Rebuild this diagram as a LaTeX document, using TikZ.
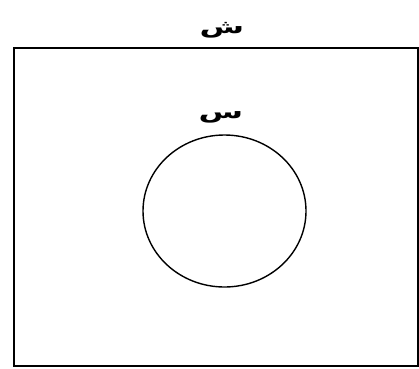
\documentclass[tikz,border=0pt]{standalone}
\usepackage{fontspec}
\usetikzlibrary{shapes.geometric}
\TeXXeTstate=1
\newfontfamily\arabicfont[Script=Arabic]{DejaVu Sans}
\newcommand{\setname}[1]{\scalebox{1.7}[1]{\bfseries\beginR #1\endR}}
\begin{document}
\begin{tikzpicture}[x=1pt,y=-1pt,
  setlabel/.style={inner sep=0pt,font=\arabicfont\fontsize{19}{21}\selectfont}]
\useasboundingbox[fill=white] (0,0) rectangle (419,368);
\node[draw,line width=2pt,minimum width=404pt,minimum height=318pt,inner sep=0pt] (U) at (215.5,207) {};
\node[draw,line width=1.4pt,ellipse,minimum width=163pt,minimum height=152pt,inner sep=0pt] (A) at (224.5,211) {};
\node[setlabel] (u) at (222,30) {\setname{ش}};
\node[setlabel] (a) at (221,117) {\setname{س}};
\end{tikzpicture}
\end{document}
